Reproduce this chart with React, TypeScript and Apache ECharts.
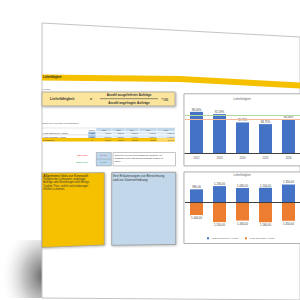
import React, { useEffect, useRef } from "react";
import * as echarts from "echarts";

const years = ["2012", "2013", "2014", "2015", "2016"];
const rateValues = [98.0, 92.59, 72.73, 68.75, 80.0];
const redLineValue = 80;
const greenLineValue = 90;
const delivered = [980, 1230, 1080, 1100, 1350];
const requested = [1000, 1550, 1430, 1560, 1450];
const rowLabels = ["Anzahl ausgelieferter Aufträge", "Anzahl angefragter Aufträge", "Lieferfähigkeit"];
const rowUnits = ["Anzahl", "Anzahl", "%"];
const legendNames = ["Anzahl ausgelieferter Aufträge", "Anzahl angefragter Aufträge"];
const infoLines = [
  "Fähigkeit des Lieferanten, angefragte",
  "Aufträge oder Bestellungen nach Menge,",
  "Qualität, Preis, zeitlich und ortsbezogen",
  "erfüllen zu können.",
];
const noteLines = [
  "Definieren Sie hier noch zusätzliche Sollwerte, um",
  "bestimmte Werte unterhalb Zielergebnis im Blick zu",
  "haben.",
];

const de = (v: number) => {
  const [i, f] = Math.abs(v).toFixed(2).split(".");
  return i.replace(/\B(?=(\d{3})+(?!\d))/g, ".") + "," + f;
};

const FONT = "Liberation Sans, Arial, sans-serif";

function txt(x: number, y: number, text: string, size: number, extra: any = {}) {
  const align = extra.align || "left";
  return {
    type: "text",
    x,
    y,
    z: 3,
    silent: true,
    style: {
      text,
      fontSize: size,
      fontFamily: FONT,
      fill: extra.fill || "#333",
      fontWeight: extra.bold ? "bold" : "normal",
      align,
      textAlign: align,
      verticalAlign: "middle",
      textVerticalAlign: "middle",
    },
  };
}

function rect(x: number, y: number, w: number, h: number, fill: string, stroke?: string, extra: any = {}) {
  return {
    type: "rect",
    z: extra.z ?? 1,
    silent: true,
    shape: { x, y, width: w, height: h },
    style: { fill, stroke: stroke || "none", lineWidth: extra.lw ?? 0.5, ...(extra.style || {}) },
  };
}

function buildGraphics() {
  const g: any[] = [];
  // shadow of the sheet
  g.push({
    type: "rect",
    z: 0,
    silent: true,
    shape: { x: 0, y: 240, width: 46, height: 58 },
    style: {
      fill: {
        type: "radial",
        x: 0.95,
        y: 0.62,
        r: 0.95,
        colorStops: [
          { offset: 0, color: "rgba(70,70,70,0.85)" },
          { offset: 0.45, color: "rgba(120,120,120,0.45)" },
          { offset: 1, color: "rgba(255,255,255,0)" },
        ],
      },
    },
  });
  // sheet
  g.push({
    type: "polygon",
    z: 0,
    silent: true,
    shape: { points: [[42, 23], [300, 37], [300, 300], [42, 298]] },
    style: { fill: "#ffffff", stroke: "#c4c4c4", lineWidth: 1 },
  });
  // header bar
  g.push({
    type: "polygon",
    z: 1,
    silent: true,
    shape: { points: [[42, 74.5], [180, 76], [300, 82.5], [300, 88.5], [180, 82], [42, 80.5]] },
    style: { fill: "#f5c000" },
  });
  g.push(txt(43, 77.6, "Lieferfähigkeit", 2.7, { bold: true, fill: "#222" }));
  g.push(txt(42.5, 89.3, "Formel:", 2.5, { fill: "#555" }));
  // formula box
  g.push(rect(42, 92, 133, 14, "#fbe49c", "#9a9a9a", { lw: 0.7, style: { shadowBlur: 2, shadowColor: "rgba(0,0,0,0.35)", shadowOffsetX: 0.8, shadowOffsetY: 0.8 } }));
  g.push(txt(50, 98.5, "Lieferfähigkeit", 3.6, { bold: true, fill: "#333" }));
  g.push(txt(91, 98.8, "=", 3.5, { bold: true, fill: "#333", align: "center" }));
  g.push(txt(129, 95.2, "Anzahl ausgelieferter Aufträge", 3.1, { bold: true, fill: "#333", align: "center" }));
  g.push({ type: "line", z: 2, silent: true, shape: { x1: 100, y1: 98.7, x2: 158, y2: 98.7 }, style: { stroke: "#444", lineWidth: 0.6 } });
  g.push(txt(129, 102.3, "Anzahl angefragter Aufträge", 3.1, { bold: true, fill: "#333", align: "center" }));
  g.push(txt(161.5, 99.3, "* 100", 2.8, { bold: true, fill: "#333" }));

  // data table
  g.push(txt(42.5, 123, "Daten für Kennzahl Lieferfähigkeit", 2.4, { fill: "#555" }));
  const colX = [96, 112, 125, 139, 157, 175];
  const rowY = [128, 131.5, 135, 138];
  const rowH = [3.3, 3.3, 3.3, 3.6];
  g.push(txt(92, rowY[0] + 1.6, "Einheit", 1.9, { fill: "#444", align: "center" }));
  for (let c = 0; c < years.length; c++) {
    g.push(rect(colX[c], rowY[0], colX[c + 1] - colX[c], rowH[0], "#bdd7ee", "#ffffff", { lw: 0.4 }));
    g.push(txt((colX[c] + colX[c + 1]) / 2, rowY[0] + 1.6, years[c], 1.9, { fill: "#444", align: "center" }));
  }
  const rowValues = [delivered.map(de), requested.map(de), rateValues.map((v) => de(v) + "%")];
  for (let r = 0; r < 3; r++) {
    const y = rowY[r + 1];
    const h = rowH[r + 1];
    const isRate = r === 2;
    if (isRate) {
      g.push(rect(42, y, 133, h, "#f5c000", "none"));
    } else {
      g.push({ type: "line", z: 1, silent: true, shape: { x1: 42, y1: y + h, x2: 96, y2: y + h }, style: { stroke: "#999", lineWidth: 0.3 } });
      g.push(rect(88, y, 8, h, "#9dc3e6", "#ffffff", { lw: 0.3 }));
    }
    g.push(txt(42.5, y + h / 2, rowLabels[r], 1.9, { fill: "#333" }));
    g.push(txt(92, y + h / 2, rowUnits[r], 1.8, { fill: "#333", align: "center" }));
    for (let c = 0; c < years.length; c++) {
      if (!isRate) {
        g.push(rect(colX[c], y, colX[c + 1] - colX[c], h, "#ddebf7", "#ffffff", { lw: 0.4 }));
      } else if (c === years.length - 1) {
        g.push(rect(colX[c], y, colX[c + 1] - colX[c], h, "#ffd966", "none"));
      }
      g.push(txt(colX[c + 1] - 0.8, y + h / 2, rowValues[r][c], 1.8, { fill: "#333", align: "right" }));
    }
  }
  g.push({ type: "line", z: 1, silent: true, shape: { x1: 42, y1: 128, x2: 175, y2: 128 }, style: { stroke: "#aaa", lineWidth: 0.3 } });

  // target lines block
  g.push(txt(87.5, 155.4, "roter Linie", 2.3, { fill: "#ff0000", align: "right" }));
  g.push(txt(88, 162.4, "grüner Linie", 2.3, { fill: "#00a040", align: "right" }));
  g.push(rect(96.3, 152.5, 15, 13.4, "#bdd7ee", "#8c8c8c", { lw: 0.5 }));
  g.push({ type: "line", z: 2, silent: true, shape: { x1: 96.3, y1: 159.1, x2: 111.3, y2: 159.1 }, style: { stroke: "#8c8c8c", lineWidth: 0.4 } });
  g.push(txt(103.8, 155.6, de(redLineValue) + "%", 2.1, { fill: "#c0504d", align: "center" }));
  g.push(txt(103.8, 162.4, de(greenLineValue) + "%", 2.1, { fill: "#4e8f3a", align: "center" }));
  g.push(rect(113, 152.5, 62.5, 13.4, "#ffffff", "#8c8c8c", { lw: 0.5 }));
  noteLines.forEach((l, i) => g.push(txt(114.5, 155.6 + i * 3, l, 2.15, { fill: "#333" })));

  // info box (yellow)
  g.push({
    type: "polygon",
    z: 1,
    silent: true,
    shape: { points: [[42, 173], [104.3, 172.7], [104.3, 245], [42, 247.5]] },
    style: { fill: "#f5c000", stroke: "#9a9a9a", lineWidth: 0.7, shadowBlur: 2, shadowColor: "rgba(0,0,0,0.3)", shadowOffsetX: 0.7, shadowOffsetY: 0.7 },
  });
  g.push(txt(43.3, 175.6, "Allgemeine Infos zur Kennzahl:", 3.3, { fill: "#222" }));
  infoLines.forEach((l, i) => g.push(txt(43.3, 179.5 + i * 3.35, l, 2.55, { fill: "#333" })));

  // explanation box (blue)
  g.push({
    type: "polygon",
    z: 1,
    silent: true,
    shape: { points: [[111.7, 172.5], [175.7, 172.2], [175.7, 244.5], [111.7, 245.3]] },
    style: { fill: "#c2d8ea", stroke: "#8c8c8c", lineWidth: 0.7, shadowBlur: 2, shadowColor: "rgba(0,0,0,0.3)", shadowOffsetX: 0.7, shadowOffsetY: 0.7 },
  });
  g.push(txt(112.8, 175.6, "Ihre Erläuterungen zur Berechnung", 3.3, { fill: "#333" }));
  g.push(txt(112.8, 179.6, "und zur Datenerhebung:", 3.3, { fill: "#333" }));

  // chart frames
  g.push(rect(184, 93.8, 118, 72, "#ffffff", "#a6a6a6", { lw: 0.8, z: 1, style: { shadowBlur: 1.5, shadowColor: "rgba(0,0,0,0.25)" } }));
  g.push(rect(184, 172, 118, 71.5, "#ffffff", "#a6a6a6", { lw: 0.8, z: 1, style: { shadowBlur: 1.5, shadowColor: "rgba(0,0,0,0.25)" } }));
  g.push(txt(242, 98.8, "Lieferfähigkeit", 2.8, { fill: "#595959", align: "center" }));
  g.push(txt(242, 174.8, "Lieferfähigkeit", 2.8, { fill: "#595959", align: "center" }));
  return g;
}

export default function App() {
  const ref = useRef<HTMLDivElement>(null);
  useEffect(() => {
    if (!ref.current) return;
    const chart = echarts.init(ref.current, undefined, { renderer: "svg" });
    const labelStyle = { fontSize: 2.8, color: "#404040", fontFamily: FONT };
    chart.setOption({
      animation: false,
      backgroundColor: "#ffffff",
      graphic: { elements: buildGraphics() },
      grid: [
        { left: 185, width: 115, top: 111, height: 42 },
        { left: 185, width: 115, top: 180, height: 46 },
      ],
      xAxis: [
        {
          gridIndex: 0,
          type: "category",
          data: years,
          axisLine: { lineStyle: { color: "#404040", width: 1 } },
          axisTick: { show: false },
          axisLabel: { fontSize: 2.8, color: "#595959", margin: 3, fontFamily: FONT },
          z: 6,
        },
        {
          gridIndex: 1,
          type: "category",
          data: years,
          axisLine: { show: false, onZero: false },
          axisTick: { show: false },
          axisLabel: { fontSize: 2.8, color: "#595959", margin: 6, fontFamily: FONT },
        },
      ],
      yAxis: [
        { gridIndex: 0, type: "value", min: 0, max: 100, show: false },
        { gridIndex: 1, type: "value", min: -1850, max: 1700, show: false },
      ],
      legend: {
        data: legendNames,
        left: 207,
        top: 237.3,
        padding: 0,
        itemWidth: 2,
        itemHeight: 2,
        itemGap: 6,
        icon: "rect",
        textStyle: { fontSize: 2.1, color: "#595959", fontFamily: FONT, padding: [0, 0, 0, -3] },
      },
      series: [
        {
          type: "bar",
          name: "Lieferfähigkeit",
          xAxisIndex: 0,
          yAxisIndex: 0,
          data: rateValues,
          barWidth: 13,
          itemStyle: { color: "#4472c4" },
          label: { show: true, position: "top", distance: 1.2, ...labelStyle, formatter: (p: any) => de(p.value) + "%" },
          markLine: {
            silent: true,
            symbol: ["none", "none"],
            label: { show: false },
            data: [
              { yAxis: greenLineValue, lineStyle: { color: "#b4d89a", width: 1, type: "solid" } },
              { yAxis: redLineValue, lineStyle: { color: "#f4b89a", width: 1, type: "solid" } },
            ],
          },
        },
        {
          type: "bar",
          name: legendNames[0],
          xAxisIndex: 1,
          yAxisIndex: 1,
          data: delivered,
          barWidth: 13,
          barGap: "-100%",
          itemStyle: { color: "#4472c4" },
          label: { show: true, position: "top", distance: 1.2, ...labelStyle, formatter: (p: any) => de(p.value) },
          markLine: {
            silent: true,
            symbol: ["none", "none"],
            label: { show: false },
            data: [{ yAxis: 0, lineStyle: { color: "#404040", width: 1, type: "solid" } }],
          },
        },
        {
          type: "bar",
          name: legendNames[1],
          xAxisIndex: 1,
          yAxisIndex: 1,
          data: requested.map((v) => -v),
          barWidth: 13,
          barGap: "-100%",
          itemStyle: { color: "#ed7d31" },
          label: { show: true, position: "bottom", distance: 1.2, ...labelStyle, formatter: (p: any) => de(p.value) },
        },
      ],
    });
    return () => chart.dispose();
  }, []);
  return (
    <div
      ref={ref}
      style={{ position: "fixed", left: 0, top: 0, width: 300, height: 300, background: "#fff" }}
    />
  );
}
